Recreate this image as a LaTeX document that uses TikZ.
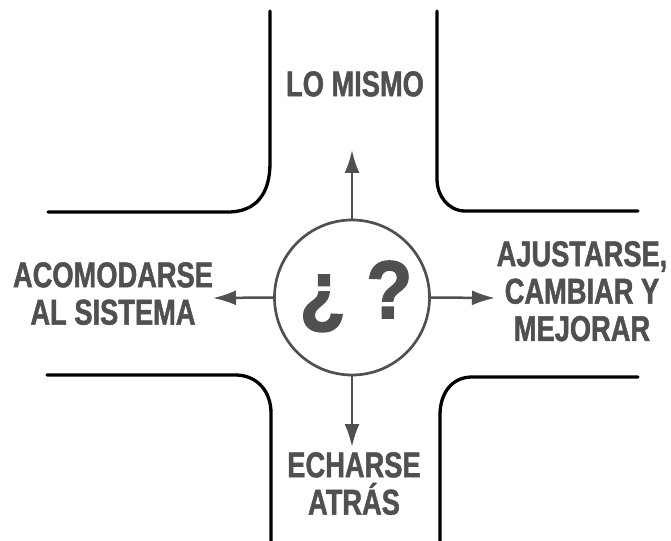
\documentclass[tikz,border=0pt]{standalone}
\usepackage{fontspec}
\setmainfont{Liberation Sans}
\newfontfamily\condfont[FakeStretch=0.76, FakeBold=1.3]{Liberation Sans}
\newfontfamily\qmfont[FakeStretch=0.92, FakeBold=2]{Liberation Sans}
\usepackage{tikz}
\usetikzlibrary{arrows.meta, calc, positioning}

\definecolor{inkgray}{RGB}{80,80,80}
\tikzset{
  road/.style={line width=3.3bp, line cap=round, line join=round, black},
  hubring/.style={circle, draw=inkgray, line width=2.7bp, minimum size=155bp, inner sep=0pt},
  flow/.style={draw=inkgray, line width=2.5bp, ->},
  choice/.style={inner sep=0pt, align=center, text=inkgray,
    font=\condfont\bfseries\fontsize{36}{37.5}\selectfont},
  qmarks/.style={inner sep=0pt, text=inkgray,
    font=\qmfont\bfseries\fontsize{82}{82}\selectfont}
}

\begin{document}
\begin{tikzpicture}[x=1bp,y=-1bp,>={Latex[length=23bp,width=15bp]}]
  \useasboundingbox (0,0) rectangle (671,541);
%%
  % Road: top left
  \draw [road] (48,212) -- (230,212) .. controls (256,211) and (270,194) .. (270,163) -- (270,11);
  % Road: top right
  \draw [road] (437,11) -- (437,180) .. controls (437,195) and (448,211) .. (465,211) -- (638,211);
  % Road: bottom left
  \draw [road] (47,375) -- (237,375) .. controls (258,376) and (271,392) .. (271,413) -- (271,541);
  % Road: bottom right
  \draw [road] (440,541) -- (440,415) .. controls (440,393) and (452,377) .. (472,377) -- (638,377);
  % Node: hub
  \node [hubring] (hub) at (352,297.5) {};
  \node [qmarks, anchor=base] (qm) at (356,318) {¿ ?};
  % Node: choices
  \node [choice, anchor=north] (same) at (355,71) {LO MISMO};
  \node [choice, anchor=north] (adapt) at (113,262) {ACOMODARSE\\AL SISTEMA};
  \node [choice, anchor=north] (improve) at (582,241) {AJUSTARSE,\\CAMBIAR Y\\MEJORAR};
  \node [choice, anchor=north] (back) at (354,452) {ECHARSE\\ATRÁS};
  % Edge: hub -- choices
  \coordinate (tipN) at (352,150);
  \coordinate (tipW) at (213,298);
  \coordinate (tipE) at (495,298);
  \coordinate (tipS) at (352,447);
  \draw [flow] (hub.north) -- (tipN);
  \draw [flow] (hub.west) -- (tipW);
  \draw [flow] (hub.east) -- (tipE);
  \draw [flow] (hub.south) -- (tipS);
%
\end{tikzpicture}
\end{document}
